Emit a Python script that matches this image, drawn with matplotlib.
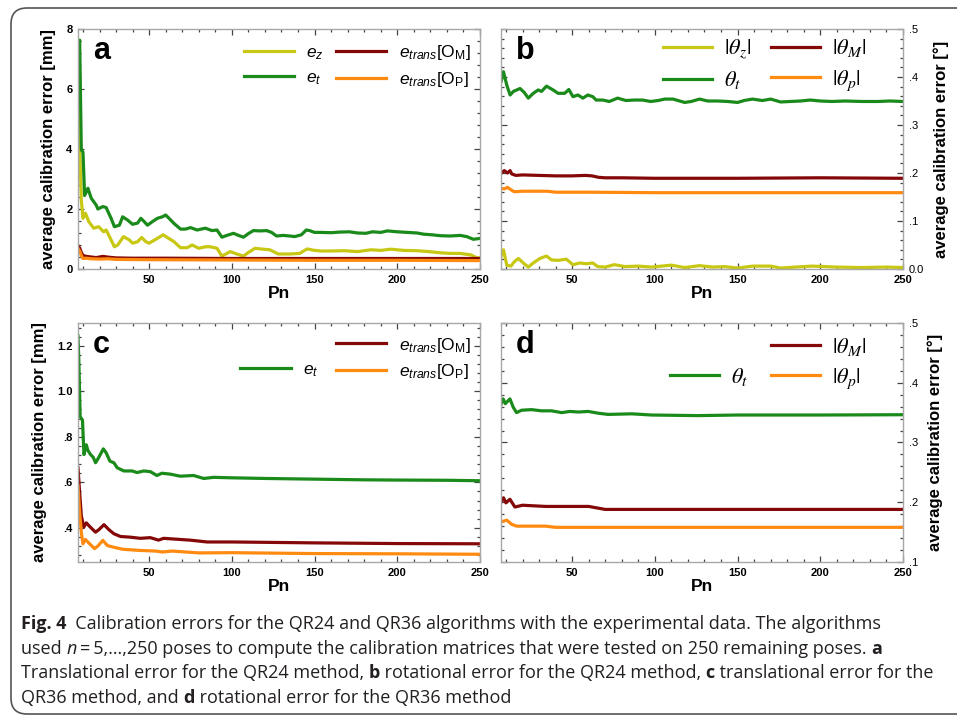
import matplotlib
matplotlib.use('Agg')
import matplotlib.pyplot as plt
from matplotlib.ticker import MultipleLocator, AutoMinorLocator, FuncFormatter
from matplotlib.lines import Line2D
from matplotlib.patches import FancyBboxPatch
from matplotlib.transforms import IdentityTransform
from matplotlib.font_manager import FontProperties

plt.rcParams['font.family'] = ['Liberation Sans', 'DejaVu Sans']
plt.rcParams['mathtext.fontset'] = 'custom'
plt.rcParams['mathtext.rm'] = 'Liberation Sans'
plt.rcParams['mathtext.it'] = 'Liberation Sans:italic'
plt.rcParams['mathtext.bf'] = 'Liberation Sans:bold'

# colours of the four error measures
YELLOW = '#c8c814'
GREEN = '#1a8a1a'
DARKRED = '#850808'
ORANGE = '#ff8a10'

# ---- panel a: translational error, QR24 [mm] ----
a_ez_x = [7, 8, 9, 10, 11.5, 13.5, 16.5, 19.5, 22.5, 24,
          27, 29, 31, 34.5, 38, 40, 43, 45.5, 48, 50,
          54, 58.5, 61, 65, 69, 73, 76, 80, 84, 87,
          91, 94, 99, 103, 107, 110, 114, 119, 123, 128,
          135, 141, 145.5, 150, 154, 160, 168, 176, 184, 190,
          196, 204, 212, 219, 226, 232, 238, 244.5, 248.5, 250]
a_ez_y = [6.1, 4.0, 2.3, 1.69, 1.86, 1.58, 1.36, 1.41, 1.24, 1.30,
          0.97, 0.74, 0.80, 1.08, 0.97, 0.86, 0.91, 1.05, 0.91, 0.86,
          0.99, 1.14, 1.05, 0.91, 0.71, 0.71, 0.80, 0.69, 0.74, 0.74,
          0.69, 0.43, 0.58, 0.50, 0.43, 0.55, 0.69, 0.66, 0.64, 0.50,
          0.50, 0.52, 0.67, 0.62, 0.60, 0.60, 0.61, 0.58, 0.64, 0.62,
          0.66, 0.62, 0.61, 0.58, 0.54, 0.52, 0.52, 0.47, 0.36, 0.38]
a_et_x = [7, 8, 9, 10, 11, 13, 15, 18, 19, 22,
          24, 27, 29, 32, 34, 37, 40, 43, 45, 47,
          49, 52, 55, 58, 60, 62, 65, 69, 72, 75,
          79, 84, 88, 91, 94, 97, 101, 104, 107, 110,
          113, 117, 121, 124, 127, 131, 135, 138, 142, 145,
          147, 150, 154, 160, 165, 171, 176, 181, 185, 190,
          194, 200, 206, 212, 216, 221, 226, 232, 238, 242,
          246, 250]
a_et_y = [7.08, 7.63, 3.97, 3.9, 2.45, 2.69, 2.36, 2.13, 2.0, 2.08,
          2.05, 1.69, 1.41, 1.46, 1.74, 1.63, 1.49, 1.53, 1.69, 1.58,
          1.46, 1.58, 1.69, 1.74, 1.80, 1.69, 1.52, 1.33, 1.33, 1.38,
          1.30, 1.36, 1.28, 1.30, 1.06, 1.12, 1.19, 1.12, 1.06, 1.18,
          1.28, 1.27, 1.28, 1.22, 1.10, 1.12, 1.10, 1.08, 1.14, 1.30,
          1.28, 1.22, 1.22, 1.21, 1.23, 1.24, 1.20, 1.19, 1.24, 1.22,
          1.27, 1.24, 1.22, 1.20, 1.16, 1.14, 1.11, 1.10, 1.12, 1.08,
          0.99, 1.02]
a_om_x = [7, 8, 9, 10, 12, 15, 18, 22, 26, 30, 40, 60, 100, 150, 200, 250]
a_om_y = [0.78, 0.70, 0.55, 0.45, 0.42, 0.40, 0.38, 0.42, 0.39, 0.37,
          0.36, 0.36, 0.35, 0.35, 0.35, 0.35]
a_op_x = [7, 8, 9, 10, 12, 15, 20, 25, 30, 50, 100, 150, 200, 250]
a_op_y = [0.68, 0.60, 0.45, 0.35, 0.36, 0.34, 0.33, 0.34, 0.32, 0.31,
          0.30, 0.29, 0.29, 0.28]

# ---- panel b: rotational error, QR24 [deg] ----
b_tz_x = [7, 8.5, 10.5, 13, 15, 17.5, 20.5, 23.5, 26.5, 30.5,
          34.5, 37.5, 41.5, 46.5, 50.5, 54.5, 58.5, 62.5, 65.5, 70,
          75.5, 82, 90, 98, 104, 110, 118, 127, 135, 142,
          150, 159, 170, 176, 185, 195, 210, 225, 240, 250]
b_tz_y = [0.026, 0.040, 0.008, 0.006, 0.015, 0.022, 0.0125, 0.004, 0.0125, 0.022,
          0.027, 0.019, 0.018, 0.0205, 0.009, 0.0125, 0.011, 0.0125, 0.005, 0.004,
          0.009, 0.005, 0.006, 0.004, 0.006, 0.008, 0.003, 0.007, 0.004, 0.005,
          0.002, 0.006, 0.006, 0.002, 0.004, 0.006, 0.004, 0.003, 0.004, 0.003]
b_tt_x = [7, 8.5, 10.5, 12.5, 14.5, 16.5, 18.5, 21, 23.5, 26.5,
          29.5, 31.5, 34.5, 36.5, 38.5, 41.5, 45.5, 48, 50.5, 53.5,
          56.5, 59.5, 62.5, 64.5, 68.5, 72.5, 77.5, 82.5, 87.5, 92.5,
          97.5, 102, 106, 111, 118, 122, 127, 132, 138, 144,
          150, 154, 159, 165, 170, 176, 182, 188, 194, 200,
          207, 215, 225, 235, 242, 250]
b_tt_y = [0.390, 0.411, 0.383, 0.3625, 0.370, 0.373, 0.376, 0.368, 0.356, 0.366,
          0.373, 0.370, 0.381, 0.377, 0.373, 0.366, 0.366, 0.374, 0.359, 0.3625,
          0.356, 0.3625, 0.359, 0.352, 0.352, 0.349, 0.356, 0.351, 0.352, 0.352,
          0.349, 0.351, 0.354, 0.354, 0.347, 0.349, 0.354, 0.350, 0.350, 0.349,
          0.347, 0.351, 0.354, 0.351, 0.354, 0.348, 0.349, 0.350, 0.352, 0.350,
          0.349, 0.350, 0.349, 0.349, 0.350, 0.349]
b_tm_x = [7, 9, 11, 12.5, 13.5, 16, 20, 30, 40, 50, 58, 62, 66, 70, 80, 100, 150, 200, 250]
b_tm_y = [0.199, 0.205, 0.200, 0.205, 0.198, 0.195, 0.196, 0.195, 0.194, 0.194,
          0.195, 0.194, 0.191, 0.190, 0.190, 0.189, 0.189, 0.190, 0.189]
b_tp_x = [7, 9, 11, 13, 15, 20, 30, 35, 40, 60, 100, 150, 200, 250]
b_tp_y = [0.168, 0.167, 0.170, 0.165, 0.161, 0.162, 0.162, 0.162, 0.160, 0.160,
          0.159, 0.159, 0.159, 0.159]

# ---- panel c: translational error, QR36 [mm] ----
c_et_x = [7, 7.5, 8.3, 9.7, 10.6, 12, 13, 14.6, 16.2, 17.6,
          19.6, 22.3, 24, 26.3, 28.7, 30.7, 34.7, 39.7, 42.7, 46.7,
          50.7, 54.7, 57.7, 62.8, 68.8, 76.9, 83, 89, 99, 120,
          150, 180, 200, 230, 250]
c_et_y = [1.243, 1.135, 0.888, 0.874, 0.722, 0.765, 0.740, 0.722, 0.710, 0.686,
          0.710, 0.747, 0.730, 0.693, 0.686, 0.664, 0.650, 0.650, 0.643, 0.650,
          0.647, 0.630, 0.640, 0.636, 0.627, 0.630, 0.617, 0.622, 0.620, 0.617,
          0.614, 0.611, 0.610, 0.609, 0.607]
c_om_x = [7, 8, 9, 10.5, 12, 14.2, 17.6, 19.6, 22.7, 25.7,
          28.7, 32.7, 38.7, 44.7, 50.7, 55.7, 58.7, 64.8, 74.8, 85,
          100, 150, 200, 250]
c_om_y = [0.664, 0.555, 0.453, 0.403, 0.422, 0.405, 0.381, 0.392, 0.414, 0.392,
          0.374, 0.362, 0.359, 0.354, 0.357, 0.346, 0.354, 0.351, 0.346, 0.338,
          0.338, 0.334, 0.331, 0.330]
c_op_x = [7, 8, 9, 10, 11.5, 14, 17, 19, 22, 24.8,
          28, 34, 44, 54, 58, 64, 80, 100, 150, 200, 250]
c_op_y = [0.584, 0.468, 0.381, 0.330, 0.349, 0.330, 0.309, 0.320, 0.345, 0.322,
          0.316, 0.306, 0.301, 0.298, 0.294, 0.298, 0.290, 0.291, 0.287, 0.286, 0.284]

# ---- panel d: rotational error, QR36 [deg] ----
d_tt_x = [7, 8.3, 9.6, 12.4, 14.4, 16.4, 19.4, 25.5, 31.5, 37.6,
          43.6, 48.7, 53.7, 59.7, 65.8, 71.8, 86, 98, 126, 150, 200, 250]
d_tt_y = [0.364, 0.373, 0.365, 0.373, 0.359, 0.350, 0.354, 0.355, 0.353, 0.353,
          0.350, 0.352, 0.351, 0.352, 0.349, 0.347, 0.348, 0.346, 0.345, 0.346,
          0.346, 0.3465]
d_tm_x = [7, 8.5, 10, 12.4, 15.4, 20, 34, 50, 60, 70, 100, 150, 200, 250]
d_tm_y = [0.200, 0.2075, 0.199, 0.205, 0.192, 0.195, 0.193, 0.193, 0.193, 0.188,
          0.188, 0.188, 0.188, 0.188]
d_tp_x = [7, 10.5, 13.5, 16.5, 25, 34, 40, 100, 150, 200, 250]
d_tp_y = [0.167, 0.170, 0.163, 0.160, 0.160, 0.160, 0.158, 0.158, 0.158, 0.158, 0.158]

W, H = 957, 717
fig = plt.figure(figsize=(W / 100, H / 100), dpi=100)


def px_axes(left, top, right, bottom):
    return fig.add_axes([left / W, 1 - bottom / H, (right - left) / W, (bottom - top) / H])


def short_dec(v, pos):
    s = f'{v:.1f}'
    if s.startswith('0.') and s != '0.0':
        s = s[1:]
    return s


def style_axes(ax, ylim, ymajor, yfmt, right_side):
    ax.set_xlim(7, 250)
    ax.set_ylim(*ylim)
    ax.xaxis.set_major_locator(MultipleLocator(50))
    ax.xaxis.set_minor_locator(AutoMinorLocator(5))
    ax.yaxis.set_major_locator(MultipleLocator(ymajor))
    ax.yaxis.set_minor_locator(AutoMinorLocator(5))
    ax.yaxis.set_major_formatter(FuncFormatter(yfmt))
    for sp in ax.spines.values():
        sp.set_color('#a8a8a8')
        sp.set_linewidth(1.0)
    ax.tick_params(which='both', direction='in', top=True, right=True, left=True,
                   color='#444444', width=0.9)
    ax.tick_params(which='major', length=4.5, labelsize=8, pad=4)
    ax.tick_params(which='minor', length=2.5)
    for lab in ax.get_xticklabels() + ax.get_yticklabels():
        lab.set_fontweight('bold')
    ax.set_xlabel('Pn', fontsize=12.5, fontweight='bold', labelpad=1)
    if right_side:
        ax.tick_params(which='both', labelleft=False, labelright=True)
        ax.yaxis.set_label_position('right')
        ax.set_ylabel('average calibration error [°]', fontsize=12, fontweight='bold',
                      labelpad=7)
    else:
        ax.set_ylabel('average calibration error [mm]', fontsize=12, fontweight='bold',
                      labelpad=7)


def add_letter(ax, letter):
    ax.text(0.037, 0.874, letter, transform=ax.transAxes, fontsize=22,
            fontweight='bold', ha='left', va='baseline')


def hide_first_label(leg):
    # the first slot of the legend is an empty place holder
    leg.get_texts()[0].set_visible(False)


lw = 2.3
sans_leg = dict(frameon=False, fontsize=12.5, handlelength=2.9, handletextpad=0.7,
                columnspacing=0.7, labelspacing=0.45, borderaxespad=0, borderpad=0.2,
                ncol=2, loc='upper right')
theta_font = FontProperties(family='DejaVu Serif', size=16, math_fontfamily='stix')
theta_leg = dict(frameon=False, prop=theta_font, handlelength=2.2, handletextpad=0.55,
                 columnspacing=0.9, labelspacing=0.38, borderaxespad=0, borderpad=0.2,
                 ncol=2, loc='upper right')

# panel a
ax_a = px_axes(78, 29, 480, 269)
style_axes(ax_a, (0, 8), 2, lambda v, p: f'{v:.0f}', False)
l1, = ax_a.plot(a_ez_x, a_ez_y, color=YELLOW, lw=lw, label=r'$e_z$')
l2, = ax_a.plot(a_et_x, a_et_y, color=GREEN, lw=lw, label=r'$e_t$')
l3, = ax_a.plot(a_om_x, a_om_y, color=DARKRED, lw=lw, label=r'$e_{trans}$[O$_\mathregular{M}$]')
l4, = ax_a.plot(a_op_x, a_op_y, color=ORANGE, lw=lw, label=r'$e_{trans}$[O$_\mathregular{P}$]')
ax_a.legend(handles=[l1, l2, l3, l4], bbox_to_anchor=(0.985, 0.955), **sans_leg)
add_letter(ax_a, 'a')

# panel b
ax_b = px_axes(501, 29, 903, 269)
style_axes(ax_b, (0, 0.5), 0.1, short_dec, True)
m1, = ax_b.plot(b_tz_x, b_tz_y, color=YELLOW, lw=lw, label=r'$|\theta_z|$')
m2, = ax_b.plot(b_tt_x, b_tt_y, color=GREEN, lw=lw, label=r'$\theta_t$')
m3, = ax_b.plot(b_tm_x, b_tm_y, color=DARKRED, lw=lw, label=r'$|\theta_M|$')
m4, = ax_b.plot(b_tp_x, b_tp_y, color=ORANGE, lw=lw, label=r'$|\theta_p|$')
ax_b.legend(handles=[m1, m2, m3, m4], bbox_to_anchor=(0.92, 0.985), **theta_leg)
add_letter(ax_b, 'b')

# panel c
ax_c = px_axes(78, 323, 480, 562)
style_axes(ax_c, (0.25, 1.3), 0.2, short_dec, False)
blank_c = Line2D([], [], color='none', label=r'[$_\mathregular{M}$]')
n2, = ax_c.plot(c_et_x, c_et_y, color=GREEN, lw=lw, label=r'$e_t$')
n3, = ax_c.plot(c_om_x, c_om_y, color=DARKRED, lw=lw, label=r'$e_{trans}$[O$_\mathregular{M}$]')
n4, = ax_c.plot(c_op_x, c_op_y, color=ORANGE, lw=lw, label=r'$e_{trans}$[O$_\mathregular{P}$]')
leg_c = ax_c.legend(handles=[blank_c, n2, n3, n4], bbox_to_anchor=(0.985, 0.962), **sans_leg)
hide_first_label(leg_c)
add_letter(ax_c, 'c')

# panel d
ax_d = px_axes(501, 323, 903, 562)
style_axes(ax_d, (0.1, 0.5), 0.1, short_dec, True)
blank_d = Line2D([], [], color='none', label=r'$|\theta|$')
k2, = ax_d.plot(d_tt_x, d_tt_y, color=GREEN, lw=lw, label=r'$\theta_t$')
k3, = ax_d.plot(d_tm_x, d_tm_y, color=DARKRED, lw=lw, label=r'$|\theta_M|$')
k4, = ax_d.plot(d_tp_x, d_tp_y, color=ORANGE, lw=lw, label=r'$|\theta_p|$')
leg_d = ax_d.legend(handles=[blank_d, k2, k3, k4], bbox_to_anchor=(0.92, 0.965), **theta_leg)
hide_first_label(leg_d)
add_letter(ax_d, 'd')

# rounded frame round the whole figure
frame = FancyBboxPatch((11, 3), 980, 706, boxstyle='round,pad=0,rounding_size=16',
                       transform=IdentityTransform(), fill=False, edgecolor='#555555',
                       linewidth=1.2)
fig.add_artist(frame)

# caption, written piece by piece so bold and italic parts can mix
cap_font = 'Open Sans'
cap_size = 13
caption = [
    [('Fig. 4', 'bold', 'normal'), ('  Calibration errors for the QR24 and QR36 algorithms with the '
                                    'experimental data. The algorithms', 'normal', 'normal')],
    [('used ', 'normal', 'normal'), ('n', 'normal', 'italic'),
     ('\u2009=\u20095,\u2026,250 poses to compute the calibration matrices that were tested on '
      '250 remaining poses. ', 'normal', 'normal'), ('a', 'bold', 'normal')],
    [('Translational error for the QR24 method, ', 'normal', 'normal'), ('b', 'bold', 'normal'),
     (' rotational error for the QR24 method, ', 'normal', 'normal'), ('c', 'bold', 'normal'),
     (' translational error for the', 'normal', 'normal')],
    [('QR36 method, and ', 'normal', 'normal'), ('d', 'bold', 'normal'),
     (' rotational error for the QR36 method', 'normal', 'normal')],
]
line_y = [624, 649, 673, 698]

renderer = fig.canvas.get_renderer()


def text_width(s, weight, style):
    # width in pixels, padded with a marker so trailing spaces count
    t = fig.text(0, 0, s + '|', fontsize=cap_size, fontweight=weight, fontstyle=style,
                 family=[cap_font, 'DejaVu Sans'])
    w = t.get_window_extent(renderer).width
    t.remove()
    t = fig.text(0, 0, '|', fontsize=cap_size, fontweight=weight, fontstyle=style,
                 family=[cap_font, 'DejaVu Sans'])
    w -= t.get_window_extent(renderer).width
    t.remove()
    return w


for parts, y in zip(caption, line_y):
    x = 21
    for s, weight, style in parts:
        fig.text(x / W, 1 - y / H, s, fontsize=cap_size, fontweight=weight, fontstyle=style,
                 family=[cap_font, 'DejaVu Sans'], va='center', ha='left', color='#231f20')
        x += text_width(s, weight, style)

fig.savefig('out.png', dpi=100)
